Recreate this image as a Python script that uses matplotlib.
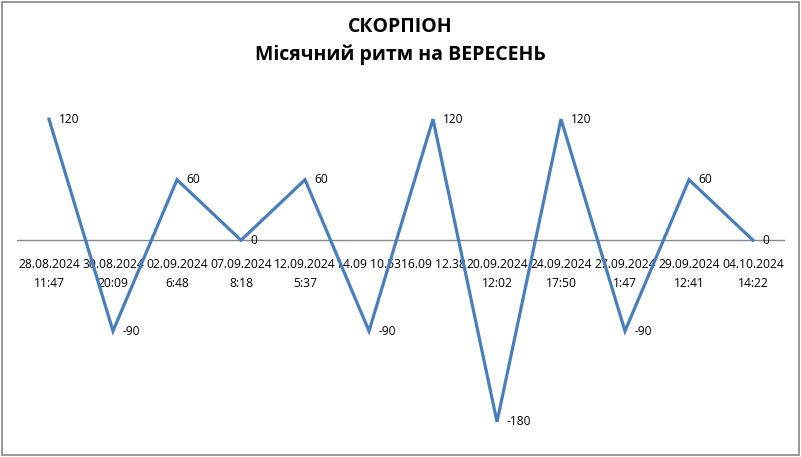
import matplotlib
matplotlib.use("Agg")
import matplotlib.pyplot as plt
from matplotlib.patches import Rectangle

plt.rcParams['font.family'] = ['Open Sans', 'DejaVu Sans']

# data
dates = ["28.08.2024\n11:47", "30.08.2024\n20:09", "02.09.2024\n6:48",
         "07.09.2024\n8:18", "12.09.2024\n5:37", "14.09 10.53",
         "16.09 12.38", "20.09.2024\n12:02", "24.09.2024\n17:50",
         "27.09.2024\n1:47", "29.09.2024\n12:41", "04.10.2024\n14:22"]
values = [120, -90, 60, 0, 60, -90, 120, -180, 120, -90, 60, 0]

W, H = 801, 457
fig = plt.figure(figsize=(W / 100, H / 100), dpi=100)

# plot area in pixels: x 17..785, y 99..442
ax = fig.add_axes([17 / W, 1 - 442 / H, (785 - 17) / W, (442 - 99) / H])
ax.set_xlim(-0.5, len(values) - 0.5)
ax.set_ylim(-200, 140)

x = list(range(len(values)))
ax.plot(x, values, color='#4a7ebb', lw=2.3, zorder=3, solid_joinstyle='miter')
ax.axhline(0, color='#868686', lw=1, zorder=2)

for xi, v in zip(x, values):
    ax.annotate(str(v), (xi, v), xytext=(7, 0), textcoords='offset points',
                ha='left', va='center', fontsize=8.6, color='black')

# category labels just below the zero line
for xi, lab in zip(x, dates):
    ax.annotate(lab, (xi, 0), xytext=(0, -12.5), textcoords='offset points',
                ha='center', va='top', fontsize=8.7, linespacing=1.6,
                color='black', zorder=1)

for s in ax.spines.values():
    s.set_visible(False)
ax.set_xticks([])
ax.set_yticks([])

fig.text(0.5, 1 - 27 / H, "СКОРПІОН", ha='center', va='center',
         fontsize=14, fontweight='bold')
fig.text(0.5, 1 - 55 / H, "Місячний ритм на ВЕРЕСЕНЬ", ha='center',
         va='center', fontsize=14, fontweight='bold')

fig.patches.append(Rectangle((1.5 / W, 2.5 / H), (W - 4) / W, (H - 4) / H,
                             transform=fig.transFigure, fill=False,
                             edgecolor='#868686', lw=1.2))

fig.savefig("out.png", dpi=100)
